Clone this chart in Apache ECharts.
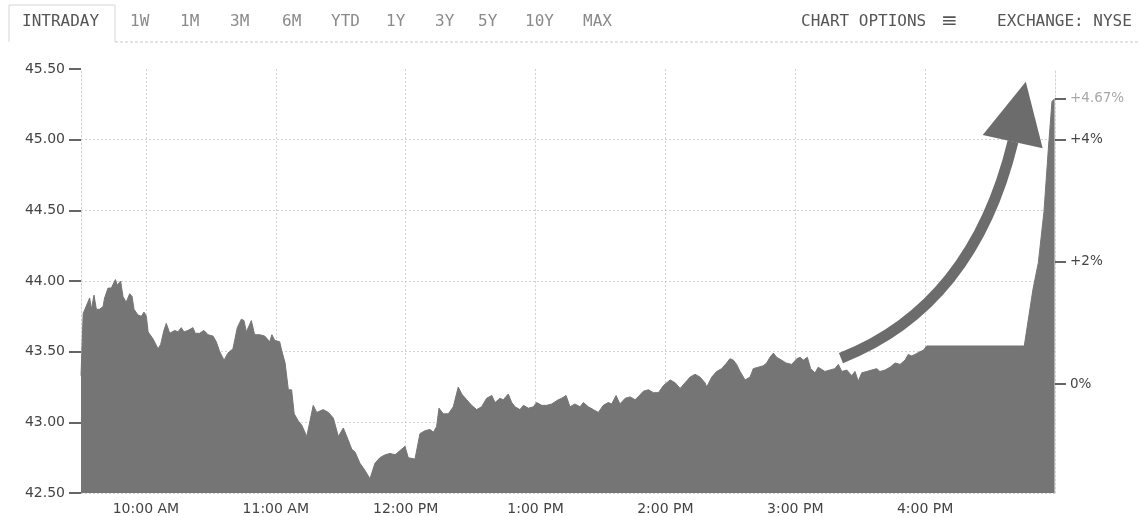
<!DOCTYPE html>
<html><head><meta charset="utf-8">
<script src="https://cdn.jsdelivr.net/npm/echarts@6/dist/echarts.min.js"></script>
<style>html,body{margin:0;padding:0;background:#fff}#c{width:1139px;height:516px}</style>
</head><body><div id="c"></div>
<script>
// ---- data (minutes after the 9:30 AM open, price in USD) ----
const openMinute = 570; // 9:30 AM
const minutesFromOpen = [0,1,1.7,4.0,4.8,6.0,7.1,8.6,10.2,10.9,12.5,14.0,15.9,16.8,18.3,19.4,20.9,22.5,23.6,24.5,26.3,27.9,29.1,30.2,31.0,33.3,35.6,36.8,38.3,39.4,41.0,43.3,44.8,46.3,47.6,49.4,51.7,52.8,54.8,56.8,58.7,61.0,62.5,64.1,66.1,67.9,70.2,72.2,74.1,75.3,76.4,78.7,80.2,82.6,84.9,87.2,88.2,89.5,91.8,92.7,94.3,95.8,97.3,98.5,100.4,102.0,104.3,105.8,107.3,108.9,111.9,114.3,116.6,118.9,121.2,122.8,125.1,126.6,128.9,131.2,133.5,135.8,138.1,140.5,142.8,145.1,147.4,149.7,151.2,154.3,156.6,158.9,161.2,162.8,164.3,165.4,167.4,169.7,172.0,174.3,175.9,178.2,180.5,182.8,185.1,187.4,189.8,191.3,193.6,195.1,197.4,199.0,200.5,202.8,204.4,206.7,209.0,210.5,212.9,215.2,217.5,220.5,222.1,224.1,225.9,228.2,230.6,232.1,234.4,236.7,239.0,241.3,243.6,245.2,247.2,249.0,251.4,253.7,256.0,258.0,259.8,262.1,264.5,266.8,269.1,272.2,274.5,276.8,279.1,281.4,283.7,286.0,288.3,289.1,291.4,293.7,296.0,298.3,299.8,301.4,302.9,304.5,306.8,309.1,310.6,312.9,315.2,316.8,318.3,319.9,321.4,323.7,325.7,328.4,330.7,332.2,333.7,335.6,337.1,339.1,340.6,343.7,346.0,348.3,349.9,351.5,353.8,356.1,357.6,359.1,360.7,363.0,365.3,367.6,369.1,371.5,373.8,376.1,378.4,380.7,382.2,383.8,385.3,387.6,389.2,390.7,435.8,439.8,442.3,444.9,446.9,448.6,449.8];
const prices = [43.33,43.77,43.76,43.88,43.80,43.90,43.80,43.80,43.82,43.88,43.95,43.95,44.01,43.97,44.00,43.89,43.85,43.91,43.89,43.80,43.76,43.75,43.78,43.75,43.64,43.59,43.52,43.55,43.65,43.70,43.63,43.65,43.64,43.67,43.64,43.65,43.67,43.63,43.63,43.65,43.62,43.61,43.57,43.50,43.44,43.49,43.52,43.67,43.73,43.72,43.64,43.72,43.62,43.62,43.61,43.57,43.62,43.58,43.57,43.51,43.42,43.23,43.23,43.06,43.01,42.98,42.90,43.01,43.12,43.07,43.09,43.07,43.03,42.90,42.96,42.90,42.81,42.79,42.71,42.66,42.60,42.71,42.75,42.77,42.78,42.77,42.80,42.83,42.75,42.74,42.92,42.94,42.95,42.93,42.97,43.10,43.06,43.06,43.11,43.25,43.20,43.16,43.12,43.09,43.11,43.17,43.19,43.14,43.17,43.16,43.20,43.14,43.11,43.09,43.12,43.10,43.11,43.14,43.12,43.12,43.13,43.16,43.17,43.19,43.11,43.13,43.11,43.14,43.11,43.09,43.07,43.12,43.14,43.13,43.19,43.13,43.17,43.18,43.16,43.19,43.22,43.23,43.21,43.21,43.26,43.30,43.28,43.24,43.28,43.32,43.34,43.32,43.28,43.25,43.32,43.36,43.38,43.42,43.45,43.44,43.41,43.36,43.30,43.32,43.38,43.39,43.40,43.42,43.46,43.49,43.46,43.44,43.42,43.41,43.45,43.46,43.44,43.46,43.38,43.35,43.39,43.36,43.37,43.38,43.41,43.36,43.37,43.33,43.36,43.29,43.35,43.36,43.37,43.38,43.36,43.37,43.39,43.42,43.41,43.44,43.48,43.47,43.48,43.50,43.51,43.54,43.54,43.94,44.13,44.49,44.93,45.27,45.29];
const previousClose = 43.27;

// ---- axis ticks / labels ----
const priceMin = 42.5, priceMax = 45.5, priceStep = 0.5;
const sessionEndMinute = 1020; // 5:00 PM
const timeTickMinutes = [600, 660, 720, 780, 840, 900, 960];
const timeTickLabels = ['10:00 AM', '11:00 AM', '12:00 PM', '1:00 PM', '2:00 PM', '3:00 PM', '4:00 PM'];
const pctTicks = [0, 2, 4, 4.67];
const pctTickLabels = ['0%', '+2%', '+4%', '+4.67%'];

// ---- header texts ----
const tabLabels = ['INTRADAY', '1W', '1M', '3M', '6M', 'YTD', '1Y', '3Y', '5Y', '10Y', 'MAX'];
const tabX = [22, 130, 180, 230, 282, 331, 386, 435, 478, 525, 583];
const optionsLabel = 'CHART OPTIONS';
const exchangeLabel = 'EXCHANGE: NYSE';

// ---- annotation arrow (minutes after open, price) ----
const arrowCurve = [[351.1, 43.455], [412.1, 43.82], [430.6, 44.987]];
const arrowHead = [[436.5, 45.41], [416.6, 45.033], [444.3, 44.939]];

const chart = echarts.init(document.getElementById('c'), null, {renderer: 'canvas'});
const FONT = 'DejaVu Sans, Verdana, sans-serif';
const gridColor = '#d2d2d2';
const fillColor = '#757575';

function nearestIdx(arr, v) {
  let best = 0;
  for (let i = 1; i < arr.length; i++) if (Math.abs(arr[i] - v) < Math.abs(arr[best] - v)) best = i;
  return best;
}

chart.setOption({
  animation: false,
  backgroundColor: '#ffffff',
  grid: {left: 81, right: 84, top: 69, bottom: 23},
  xAxis: {
    type: 'value', min: openMinute, max: sessionEndMinute,
    axisLine: {show: false},
    axisTick: {show: false, customValues: timeTickMinutes},
    axisLabel: {
      customValues: timeTickMinutes,
      formatter: v => timeTickLabels[nearestIdx(timeTickMinutes, v)],
      color: '#444', fontFamily: FONT, fontSize: 14, margin: 9
    },
    splitLine: {show: true, lineStyle: {color: gridColor, type: [2, 2], width: 1}}
  },
  yAxis: [{
    type: 'value', min: priceMin, max: priceMax, interval: priceStep, position: 'left',
    axisLine: {show: true, lineStyle: {color: gridColor, type: [2, 2], width: 1}},
    axisTick: {show: true, length: 12, lineStyle: {color: '#333', width: 1.5}},
    axisLabel: {formatter: v => v.toFixed(2), color: '#444', fontFamily: FONT, fontSize: 14, margin: 16},
    splitLine: {show: true, showMaxLine: false, lineStyle: {color: gridColor, type: [2, 2], width: 1}}
  }, {
    type: 'value', position: 'right',
    min: (priceMin / previousClose - 1) * 100,
    max: (priceMax / previousClose - 1) * 100,
    axisLine: {show: true, lineStyle: {color: gridColor, type: [2, 2], width: 1}},
    axisTick: {show: true, length: 11, customValues: pctTicks, lineStyle: {color: '#333', width: 1.5}},
    axisLabel: {
      customValues: pctTicks,
      formatter: v => {
        const i = nearestIdx(pctTicks, v);
        return i === 3 ? '{l|' + pctTickLabels[i] + '}' : pctTickLabels[i];
      },
      color: '#444', fontFamily: FONT, fontSize: 13.5, margin: 15,
      rich: {l: {color: '#a8a8a8', fontFamily: FONT, fontSize: 13.5}}
    },
    splitLine: {show: false}
  }],
  series: [{
    type: 'line',
    data: minutesFromOpen.map((m, i) => [openMinute + m, prices[i]]),
    showSymbol: false, symbol: 'none', sampling: null,
    lineStyle: {width: 1, color: fillColor},
    areaStyle: {color: fillColor, opacity: 1, origin: 'start'},
    z: 3, silent: true
  }]
});

function px(p) { return chart.convertToPixel({gridIndex: 0}, [openMinute + p[0], p[1]]); }
const a0 = px(arrowCurve[0]), a1 = px(arrowCurve[1]), a2 = px(arrowCurve[2]);
const headPts = arrowHead.map(px);

const headerColor = '#555';
const graphics = [
  {type: 'polyline', shape: {points: [[9, 42], [9, 5], [115, 5], [115, 42]]}, style: {stroke: '#d6d6d6', fill: null, lineWidth: 1}, silent: true},
  {type: 'line', shape: {x1: 115, y1: 42, x2: 1139, y2: 42}, style: {stroke: '#c8c8c8', lineWidth: 1, lineDash: [3, 2]}, silent: true},
  {type: 'text', x: 801, y: 22, style: {text: optionsLabel, fill: headerColor, font: '16px "DejaVu Sans Mono", monospace', verticalAlign: 'middle'}, silent: true},
  {type: 'text', x: 941, y: 22, style: {text: '\u2261', fill: headerColor, font: '20px "DejaVu Sans", sans-serif', verticalAlign: 'middle'}, silent: true},
  {type: 'text', x: 997, y: 22, style: {text: exchangeLabel, fill: headerColor, font: '16px "DejaVu Sans Mono", monospace', verticalAlign: 'middle'}, silent: true},
  {type: 'bezierCurve', shape: {x1: a0[0], y1: a0[1], cpx1: a1[0], cpy1: a1[1], x2: a2[0], y2: a2[1]}, style: {stroke: '#6c6c6c', lineWidth: 11, fill: null, lineCap: 'butt'}, z: 100, silent: true},
  {type: 'polygon', shape: {points: headPts}, style: {fill: '#6c6c6c'}, z: 100, silent: true}
];
tabLabels.forEach((t, i) => {
  graphics.push({type: 'text', x: tabX[i], y: 22, style: {text: t, fill: i === 0 ? '#555' : '#8a8a8a', font: '16px "DejaVu Sans Mono", monospace', verticalAlign: 'middle'}, silent: true});
});
chart.setOption({graphic: graphics});
</script></body></html>
